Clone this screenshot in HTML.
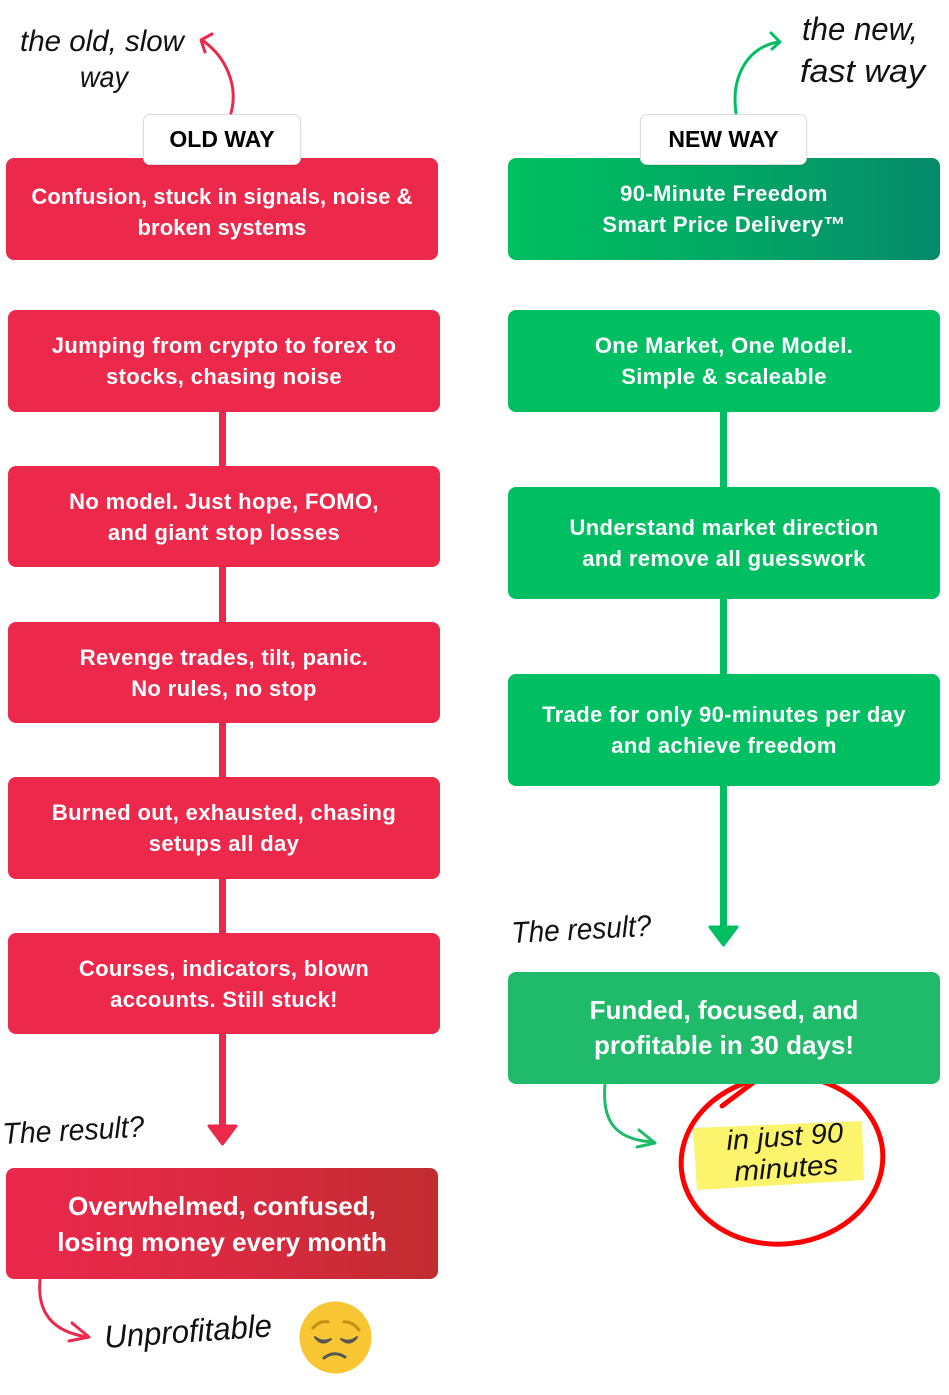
<!DOCTYPE html>
<html><head><meta charset="utf-8">
<style>
html,body{margin:0;padding:0;background:#fff;}
body{width:949px;height:1395px;position:relative;overflow:hidden;font-family:"Liberation Sans",Arial,sans-serif;}
.b{position:absolute;border-radius:8px;color:#fff;font-weight:700;font-size:22px;line-height:31px;letter-spacing:0.35px;text-align:center;display:flex;align-items:center;justify-content:center;box-sizing:border-box;}
.r{background:#ec284b;}
.g{background:#00bf63;}
.c{position:absolute;width:7px;}
.lab{position:absolute;top:114px;height:51px;background:#fff;border:1px solid #dcdcdc;border-radius:7px;box-sizing:border-box;font-weight:700;font-size:23px;color:#000;display:flex;align-items:center;justify-content:center;box-shadow:0 1px 2px rgba(0,0,0,0.08);z-index:3;}
svg{position:absolute;left:0;top:0;}
.hw{font-family:"Liberation Sans",sans-serif;font-style:italic;fill:#111;}
</style></head>
<body>

<svg width="949" height="1395" style="z-index:0">
  <ellipse cx="782" cy="1160" rx="101" ry="84" fill="none" stroke="#ff0000" stroke-width="5" transform="rotate(-6 782 1160)"/>
  <line x1="722" y1="1106" x2="754" y2="1082" stroke="#ff0000" stroke-width="5" stroke-linecap="round"/>
</svg>

<div class="c r" style="left:219px;top:410px;height:58px;"></div>
<div class="c r" style="left:219px;top:565px;height:59px;"></div>
<div class="c r" style="left:219px;top:721px;height:58px;"></div>
<div class="c r" style="left:219px;top:877px;height:58px;"></div>
<div class="c r" style="left:219px;top:1032px;height:95px;"></div>
<div class="c g" style="left:720px;top:410px;height:79px;"></div>
<div class="c g" style="left:720px;top:597px;height:79px;"></div>
<div class="c g" style="left:720px;top:784px;height:144px;"></div>

<div class="b r" style="left:6px;top:158px;width:432px;height:102px;padding-top:6px;letter-spacing:0.1px;">Confusion, stuck in signals, noise &amp;<br>broken systems</div>
<div class="b r" style="left:8px;top:310px;width:432px;height:102px;">Jumping from crypto to forex to<br>stocks, chasing noise</div>
<div class="b r" style="left:8px;top:466px;width:432px;height:101px;">No model. Just hope, FOMO,<br>and giant stop losses</div>
<div class="b r" style="left:8px;top:622px;width:432px;height:101px;">Revenge trades, tilt, panic.<br>No rules, no stop</div>
<div class="b r" style="left:8px;top:777px;width:432px;height:102px;">Burned out, exhausted, chasing<br>setups all day</div>
<div class="b r" style="left:8px;top:933px;width:432px;height:101px;">Courses, indicators, blown<br>accounts. Still stuck!</div>
<div class="b" style="left:6px;top:1168px;width:432px;height:111px;font-size:26px;line-height:36px;letter-spacing:0;background:linear-gradient(90deg,#eb284c 0%,#d92a40 55%,#c02c2f 100%);">Overwhelmed, confused,<br>losing money every month</div>

<div class="b" style="left:508px;top:158px;width:432px;height:102px;background:linear-gradient(90deg,#00c060 0%,#02a865 50%,#068a6a 100%);">90-Minute Freedom<br>Smart Price Delivery™</div>
<div class="b g" style="left:508px;top:310px;width:432px;height:102px;">One Market, One Model.<br>Simple &amp; scaleable</div>
<div class="b g" style="left:508px;top:487px;width:432px;height:112px;">Understand market direction<br>and remove all guesswork</div>
<div class="b g" style="left:508px;top:674px;width:432px;height:112px;">Trade for only 90-minutes per day<br>and achieve freedom</div>
<div class="b" style="left:508px;top:972px;width:432px;height:112px;background:#1fba6a;font-size:26px;line-height:35px;letter-spacing:0;">Funded, focused, and<br>profitable in 30 days!</div>

<div class="lab" style="left:143px;width:158px;">OLD WAY</div>
<div class="lab" style="left:640px;width:167px;">NEW WAY</div>

<svg width="949" height="1395" style="z-index:4">
  <path d="M231,113 C238,88 228,58 202,40" fill="none" stroke="#ec284b" stroke-width="3" stroke-linecap="round"/>
  <polyline points="212,34 201,40 205,52" fill="none" stroke="#ec284b" stroke-width="3" stroke-linecap="round" stroke-linejoin="round"/>
  <path d="M736,113 C731,78 746,48 778,42" fill="none" stroke="#00bf63" stroke-width="3" stroke-linecap="round"/>
  <polyline points="771,33 780,42 772,49" fill="none" stroke="#00bf63" stroke-width="3" stroke-linecap="round" stroke-linejoin="round"/>

  <polygon points="209,1126 236,1126 222.5,1144" fill="#ec284b" stroke="#ec284b" stroke-width="3" stroke-linejoin="round"/>
  <polygon points="710,927 737,927 723.5,945" fill="#00bf63" stroke="#00bf63" stroke-width="3" stroke-linejoin="round"/>

  <path d="M40,1280 C37,1312 52,1332 88,1337" fill="none" stroke="#ec284b" stroke-width="3" stroke-linecap="round"/>
  <polyline points="72,1323 89,1337 69,1341" fill="none" stroke="#ec284b" stroke-width="3" stroke-linecap="round" stroke-linejoin="round"/>

  <path d="M605,1085 C602,1120 614,1140 654,1142" fill="none" stroke="#1fba6a" stroke-width="3" stroke-linecap="round"/>
  <polyline points="639,1130 655,1143 637,1147" fill="none" stroke="#1fba6a" stroke-width="3" stroke-linecap="round" stroke-linejoin="round"/>

  <polygon points="693,1128 862,1121 864,1180 697,1190" fill="#fbf46c"/>

  <text class="hw" x="20" y="51" font-size="30" textLength="164" lengthAdjust="spacingAndGlyphs">the old, slow</text>
  <text class="hw" x="80" y="87" font-size="30" textLength="48" lengthAdjust="spacingAndGlyphs">way</text>
  <text class="hw" x="802" y="40" font-size="32" textLength="116" lengthAdjust="spacingAndGlyphs">the new,</text>
  <text class="hw" x="800" y="82" font-size="32" textLength="125" lengthAdjust="spacingAndGlyphs">fast way</text>
  <text class="hw" x="512" y="943" font-size="30" textLength="140" lengthAdjust="spacingAndGlyphs" transform="rotate(-3 512 943)">The result?</text>
  <text class="hw" x="3" y="1144" font-size="30" textLength="142" lengthAdjust="spacingAndGlyphs" transform="rotate(-3 3 1144)">The result?</text>
  <text class="hw" x="105" y="1348" font-size="32" textLength="168" lengthAdjust="spacingAndGlyphs" transform="rotate(-4 105 1348)">Unprofitable</text>
  <text class="hw" x="727" y="1150" font-size="28" textLength="117" lengthAdjust="spacingAndGlyphs" transform="rotate(-4 727 1150)">in just 90</text>
  <text class="hw" x="735" y="1181" font-size="28" textLength="104" lengthAdjust="spacingAndGlyphs" transform="rotate(-4 735 1181)">minutes</text>

  <circle cx="335.5" cy="1337.5" r="36" fill="#f8c633"/>
  <path d="M313,1328 Q320,1320 328,1322" fill="none" stroke="#c98f14" stroke-width="3" stroke-linecap="round"/>
  <path d="M344,1322 Q352,1321 359,1330" fill="none" stroke="#c98f14" stroke-width="3" stroke-linecap="round"/>
  <path d="M315,1337 Q322,1347 331,1339 Q322,1343 315,1337 Z" fill="#555" stroke="#555" stroke-width="2" stroke-linejoin="round"/>
  <path d="M341,1339 Q350,1347 357,1337 Q350,1343 341,1339 Z" fill="#555" stroke="#555" stroke-width="2" stroke-linejoin="round"/>
  <path d="M324,1358 Q334,1350 345,1357" fill="none" stroke="#555" stroke-width="3" stroke-linecap="round"/>
</svg>

</body></html>
